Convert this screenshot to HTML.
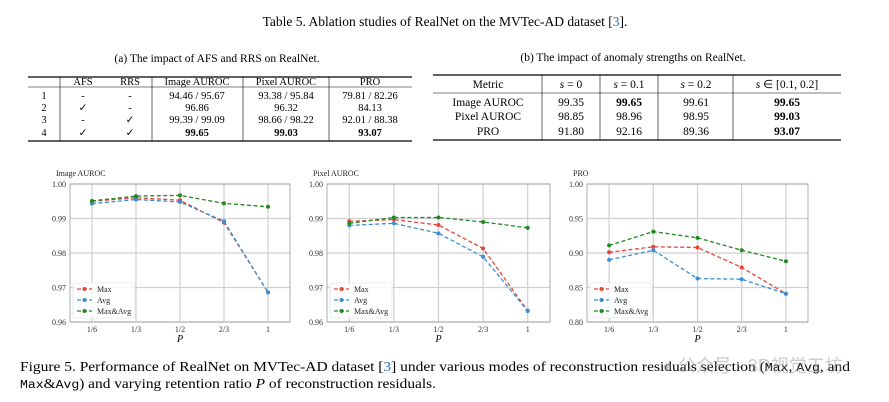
<!DOCTYPE html>
<html><head><meta charset="utf-8"><style>
body{margin:0;background:#fff;}
svg{display:block;font-family:"Liberation Serif",serif;}
</style></head><body>
<svg id="root" width="889" height="402" xmlns="http://www.w3.org/2000/svg">
<text x="445" y="26" font-size="13.5" text-anchor="middle">Table 5. Ablation studies of RealNet on the MVTec-AD dataset [<tspan fill="#2a6fc9">3</tspan>].</text>
<g font-size="10.5" text-anchor="middle">
<text x="217" y="62" font-size="11.5">(a) The impact of AFS and RRS on RealNet.</text>
<line x1="28" y1="77" x2="412" y2="77" stroke="#000" stroke-width="1.3"/>
<line x1="28" y1="87" x2="412" y2="87" stroke="#000" stroke-width="0.6"/>
<line x1="28" y1="141" x2="412" y2="141" stroke="#000" stroke-width="1.3"/>
<g stroke="#000" stroke-width="0.6"><line x1="60" y1="77" x2="60" y2="141"/><line x1="152" y1="77" x2="152" y2="141"/><line x1="243" y1="77" x2="243" y2="141"/><line x1="329" y1="77" x2="329" y2="141"/></g>
<text x="83" y="85">AFS</text><text x="130" y="85">RRS</text><text x="197" y="85">Image AUROC</text><text x="286" y="85">Pixel AUROC</text><text x="370" y="85">PRO</text>
<text x="44" y="99">1</text><text x="83" y="99">-</text><text x="130" y="99">-</text><text x="197" y="99">94.46 / 95.67</text><text x="286" y="99">93.38 / 95.84</text><text x="370" y="99">79.81 / 82.26</text>
<text x="44" y="111">2</text><text x="83" y="111">✓</text><text x="130" y="111">-</text><text x="197" y="111">96.86</text><text x="286" y="111">96.32</text><text x="370" y="111">84.13</text>
<text x="44" y="123">3</text><text x="83" y="123">-</text><text x="130" y="123">✓</text><text x="197" y="123">99.39 / 99.09</text><text x="286" y="123">98.66 / 98.22</text><text x="370" y="123">92.01 / 88.38</text>
<text x="44" y="136">4</text><text x="83" y="136">✓</text><text x="130" y="136">✓</text><text x="197" y="136" font-weight="bold">99.65</text><text x="286" y="136" font-weight="bold">99.03</text><text x="370" y="136" font-weight="bold">93.07</text>
</g>
<g font-size="11.5" text-anchor="middle">
<text x="633" y="61">(b) The impact of anomaly strengths on RealNet.</text>
<line x1="433" y1="75" x2="841" y2="75" stroke="#000" stroke-width="1.3"/>
<line x1="433" y1="93" x2="841" y2="93" stroke="#000" stroke-width="0.6"/>
<line x1="433" y1="140" x2="841" y2="140" stroke="#000" stroke-width="1.3"/>
<g stroke="#000" stroke-width="0.6"><line x1="542" y1="75" x2="542" y2="140"/><line x1="600" y1="75" x2="600" y2="140"/><line x1="658" y1="75" x2="658" y2="140"/><line x1="733" y1="75" x2="733" y2="140"/></g>
<text x="488" y="88">Metric</text><text x="571" y="88"><tspan font-style="italic">s</tspan> = 0</text><text x="629" y="88"><tspan font-style="italic">s</tspan> = 0.1</text><text x="696" y="88"><tspan font-style="italic">s</tspan> = 0.2</text><text x="787" y="88"><tspan font-style="italic">s</tspan> ∈ [0.1, 0.2]</text>
<text x="488" y="106">Image AUROC</text><text x="571" y="106">99.35</text><text x="629" y="106" font-weight="bold">99.65</text><text x="696" y="106">99.61</text><text x="787" y="106" font-weight="bold">99.65</text>
<text x="488" y="120">Pixel AUROC</text><text x="571" y="120">98.85</text><text x="629" y="120">98.96</text><text x="696" y="120">98.95</text><text x="787" y="120" font-weight="bold">99.03</text>
<text x="488" y="135">PRO</text><text x="571" y="135">91.80</text><text x="629" y="135">92.16</text><text x="696" y="135">89.36</text><text x="787" y="135" font-weight="bold">93.07</text>
</g>
<g id="charts"></g>
<text x="20" y="371" font-size="13.5" textLength="830" lengthAdjust="spacingAndGlyphs">Figure 5. Performance of RealNet on MVTec-AD dataset [<tspan fill="#2a6fc9">3</tspan>] under various modes of reconstruction residuals selection (<tspan font-family="Liberation Mono" font-size="11.5">Max</tspan>, <tspan font-family="Liberation Mono" font-size="11.5">Avg</tspan>, and</text>
<text x="20" y="388" font-size="13.5" textLength="416" lengthAdjust="spacingAndGlyphs"><tspan font-family="Liberation Mono" font-size="11.5">Max</tspan>&amp;<tspan font-family="Liberation Mono" font-size="11.5">Avg</tspan>) and varying retention ratio <tspan font-style="italic">P</tspan> of reconstruction residuals.</text>
<text x="662" y="372" font-size="18" fill="#999" fill-opacity="0.5" font-family="Liberation Sans, Noto Sans CJK SC, sans-serif">● 公众号 · 3D视觉工坊</text>
</svg>
<script>
const categories = ["1/6","1/3","1/2","2/3","1"];
const seriesNames = ["Max","Avg","Max&Avg"];
const imgMax = [0.9950,0.9960,0.9953,0.9888,0.9686];
const imgAvg = [0.9943,0.9955,0.9948,0.9892,0.9686];
const imgBoth = [0.9951,0.9965,0.9967,0.9944,0.9934];
const pixMax = [0.9892,0.9897,0.9881,0.9813,0.9633];
const pixAvg = [0.9880,0.9886,0.9857,0.9789,0.9632];
const pixBoth = [0.9886,0.9903,0.9903,0.9890,0.9873];
const proMax = [0.901,0.909,0.908,0.879,0.841];
const proAvg = [0.890,0.904,0.863,0.862,0.841];
const proBoth = [0.911,0.931,0.922,0.904,0.888];
const aurocTicks = ["0.96","0.97","0.98","0.99","1.00"];
const proTicks = ["0.80","0.85","0.90","0.95","1.00"];
const colors = ["#e8443a","#3a8fd0","#1f8a1f"];
const NS="http://www.w3.org/2000/svg";
const root=document.getElementById('charts');
function mk(tag,attrs,parent){const e=document.createElementNS(NS,tag);for(const k in attrs)e.setAttribute(k,attrs[k]);parent.appendChild(e);return e;}
function chart(key,title,L,R,T,B,ticks,series){
  const g=mk('g',{},root);
  
  
  const lo=parseFloat(ticks[0]),hi=parseFloat(ticks[ticks.length-1]);
  const y=v=>B-(v-lo)/(hi-lo)*(B-T);
  const step=(R-L)/5.0;
  const x=i=>L+step*(0.5+i);
  ticks.forEach(t=>{const yy=y(parseFloat(t));
    mk('line',{x1:L,x2:R,y1:yy,y2:yy,stroke:'#d0d0d0','stroke-width':1.2},g);
    const tx=mk('text',{x:L-4,y:yy+3,'font-size':8,'text-anchor':'end',fill:'#333'},g);tx.textContent=t;
    
    });
  categories.forEach((c,i)=>{const xx=x(i);
    mk('line',{x1:xx,x2:xx,y1:T,y2:B,stroke:'#d0d0d0','stroke-width':1.2},g);
    const tx=mk('text',{x:xx,y:B+10,'font-size':8,'text-anchor':'middle',fill:'#333'},g);tx.textContent=c;
    
    });
  mk('rect',{x:L,y:T,width:R-L,height:B-T,fill:'none',stroke:'#999','stroke-width':0.8},g);
  const tt=mk('text',{x:L-14,y:T-8,'font-size':8,fill:'#222'},g);tt.textContent=title;
  
  
  const xl=mk('text',{x:(L+R)/2,y:B+20,'font-size':10,'font-style':'italic','text-anchor':'middle'},g);xl.textContent='P';
  
  
  series.forEach((s,si)=>{
    const pts=s.map((v,i)=>x(i)+','+y(v)).join(' ');
    const pl=mk('polyline',{points:pts,fill:'none',stroke:colors[si],'stroke-width':1.3,'stroke-dasharray':'4,2.5'},g);
    
    
    s.forEach((v,i)=>{const c=mk('circle',{cx:x(i),cy:y(v),r:2,fill:colors[si]},g);
      
      });
  });
  const lg=mk('g',{},g);
  
  
  mk('rect',{x:L+3,y:B-39,width:62,height:35,fill:'#fff','fill-opacity':0.85,stroke:'#ddd','stroke-width':0.6,rx:2},lg);
  seriesNames.forEach((n,si)=>{const yy=B-33+si*11;
    mk('line',{x1:L+7,x2:L+22,y1:yy,y2:yy,stroke:colors[si],'stroke-width':1.3,'stroke-dasharray':'4,2'},lg);
    mk('circle',{cx:L+14.5,cy:yy,r:2,fill:colors[si]},lg);
    const t=mk('text',{x:L+27,y:yy+3,'font-size':8,fill:'#222'},lg);t.textContent=n;
    
    });
}
chart('image-auroc','Image AUROC',70,290,184,322,aurocTicks,[imgMax,imgAvg,imgBoth]);
chart('pixel-auroc','Pixel AUROC',327,550,184,322,aurocTicks,[pixMax,pixAvg,pixBoth]);
chart('pro','PRO',587,808,184,322,proTicks,[proMax,proAvg,proBoth]);
</script>
</body></html>
